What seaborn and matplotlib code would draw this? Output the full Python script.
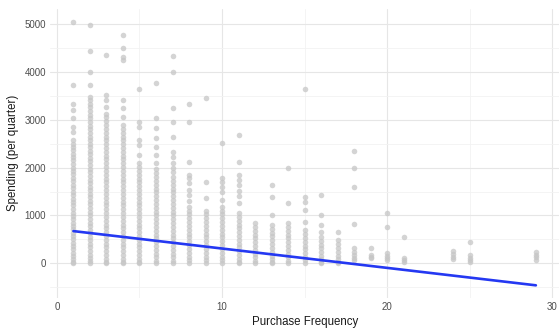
import matplotlib
matplotlib.use("Agg")
import matplotlib.pyplot as plt
from matplotlib.ticker import MultipleLocator
import pandas as pd
import seaborn as sns

# Quarterly spending observed for each purchase-frequency value
spend_f1 = [5040, 3720, 3330, 3200, 3030, 2850, 2740, 2570, 2500, 2430, 2360, 2290, 2220,
            2150, 2080, 2000, 1930, 1860, 1790, 1710, 1640, 1570, 1500, 1420, 1350, 1280,
            1210, 1140, 1060, 990, 920, 850, 780, 710, 640, 570, 500, 430, 360, 290, 220,
            150, 80, 20, 0]
spend_f2 = [4980, 4440, 4000, 3720, 3480, 3410, 3340, 3260, 3190, 3110, 3030, 2960, 2880,
            2800, 2730, 2650, 2580, 2500, 2430, 2350, 2280, 2200, 2130, 2050, 1980, 1900,
            1830, 1750, 1680, 1600, 1530, 1450, 1380, 1300, 1230, 1150, 1080, 1000, 930,
            850, 780, 700, 630, 550, 480, 400, 330, 250, 180, 100, 40, 0]
spend_f3 = [4350, 3510, 3410, 3270, 3130, 3050, 2970, 2890, 2810, 2730, 2650, 2570, 2490,
            2410, 2330, 2250, 2170, 2090, 2010, 1930, 1850, 1770, 1690, 1610, 1530, 1450,
            1370, 1290, 1210, 1130, 1050, 970, 890, 810, 730, 650, 570, 490, 410, 330, 250,
            170, 90, 30, 0]
spend_f4 = [4770, 4500, 4310, 4250, 3410, 3240, 3060, 2890, 2810, 2730, 2650, 2570, 2490,
            2410, 2330, 2250, 2170, 2090, 2010, 1930, 1850, 1770, 1690, 1610, 1530, 1450,
            1370, 1290, 1210, 1130, 1050, 970, 890, 810, 730, 650, 570, 490, 410, 330, 250,
            170, 90, 30, 0]
spend_f5 = [3640, 2950, 2850, 2570, 2470, 2260, 2090, 2010, 1930, 1850, 1770, 1690, 1610,
            1530, 1450, 1370, 1290, 1210, 1130, 1050, 970, 890, 810, 730, 650, 570, 490,
            410, 330, 250, 170, 90, 30, 0]
spend_f6 = [3760, 3030, 2820, 2610, 2430, 2260, 2090, 1980, 1880, 1800, 1720, 1640, 1560,
            1480, 1400, 1320, 1240, 1160, 1080, 1000, 920, 840, 760, 680, 600, 520, 440,
            360, 280, 200, 120, 50, 0]
spend_f7 = [4330, 4000, 3240, 2960, 2640, 2320, 2220, 2100, 2000, 1900, 1800, 1720, 1640,
            1560, 1480, 1400, 1320, 1240, 1160, 1080, 1000, 920, 840, 760, 680, 600, 520,
            440, 360, 280, 200, 120, 50, 0]
spend_f8 = [3340, 2950, 2110, 1840, 1780, 1670, 1530, 1420, 1300, 1170, 1100, 1020, 940,
            860, 780, 700, 620, 540, 460, 380, 300, 220, 140, 60, 0]
spend_f9 = [3450, 1700, 1360, 1100, 1020, 940, 860, 780, 700, 620, 540, 460, 380, 300,
            220, 140, 60, 0]
spend_f10 = [2510, 1780, 1700, 1600, 1480, 1320, 1170, 1100, 1020, 940, 860, 780, 700,
             620, 540, 460, 380, 300, 220, 140, 60, 0]
spend_f11 = [2680, 2120, 1840, 1740, 1630, 1520, 1400, 1250, 1050, 970, 890, 810, 730,
             650, 570, 490, 410, 330, 250, 170, 90, 30, 0]
spend_f12 = [840, 760, 680, 600, 520, 440, 360, 280, 200, 120, 50, 0]
spend_f13 = [1630, 1380, 1000, 800, 720, 640, 560, 480, 400, 320, 240, 160, 80, 20, 0]
spend_f14 = [1990, 1250, 840, 760, 680, 600, 520, 440, 360, 280, 200, 120, 50, 0]
spend_f15 = [3640, 1390, 1280, 1110, 860, 690, 610, 530, 450, 370, 290, 210, 130, 60, 0]
spend_f16 = [1420, 1000, 800, 650, 550, 470, 390, 310, 230, 150, 80, 20, 0]
spend_f17 = [650, 480, 400, 320, 240, 160, 90, 30, 0]
spend_f18 = [2350, 2000, 1590, 820, 310, 240, 170, 110, 60]
spend_f19 = [310, 170, 140, 110]
spend_f20 = [1050, 760, 210, 160, 110, 60]
spend_f21 = [550, 100, 60, 20]
spend_f24 = [260, 200, 140, 80]
spend_f25 = [450, 170, 110, 60, 30]
spend_f29 = [240, 180, 120, 60]

frequencies = [1, 2, 3, 4, 5, 6, 7, 8, 9, 10, 11, 12, 13, 14, 15, 16, 17, 18,
               19, 20, 21, 24, 25, 29]
spend_columns = [spend_f1, spend_f2, spend_f3, spend_f4, spend_f5, spend_f6, spend_f7,
                 spend_f8, spend_f9, spend_f10, spend_f11, spend_f12, spend_f13,
                 spend_f14, spend_f15, spend_f16, spend_f17, spend_f18, spend_f19,
                 spend_f20, spend_f21, spend_f24, spend_f25, spend_f29]

# Fitted linear trend, evaluated at the ends of the frequency range
fit_freq = [1, 29]
fit_spend = [672, -462]

rows = [(f, s) for f, col in zip(frequencies, spend_columns) for s in col]
df = pd.DataFrame(rows, columns=["frequency", "spending"])
fit_df = pd.DataFrame({"frequency": fit_freq, "spending": fit_spend})

sns.set_theme(style="whitegrid")
plt.rcParams["font.family"] = ["Liberation Sans", "DejaVu Sans"]

fig = plt.figure(figsize=(5.59, 3.31), dpi=100)
ax = fig.add_axes([0.090, 0.100, 0.910, 0.874])

sns.scatterplot(data=df, x="frequency", y="spending", ax=ax, color="#c6c6c6",
                alpha=0.75, s=16, linewidth=0, zorder=2)
sns.lineplot(data=fit_df, x="frequency", y="spending", ax=ax, color="#2438f2",
             linewidth=1.9, zorder=3)

ax.set_xlim(-0.4, 30.4)
ax.set_ylim(-725, 5325)
ax.xaxis.set_major_locator(MultipleLocator(10))
ax.xaxis.set_minor_locator(MultipleLocator(5))
ax.yaxis.set_major_locator(MultipleLocator(1000))
ax.yaxis.set_minor_locator(MultipleLocator(500))

ax.grid(which="major", color="#e6e6e6", linewidth=0.8)
ax.grid(which="minor", color="#f2f2f2", linewidth=0.6)
ax.set_axisbelow(True)
for sp in ax.spines.values():
    sp.set_visible(False)

ax.tick_params(axis="both", which="both", length=0, labelsize=7, colors="#4d4d4d", pad=3)
ax.set_xlabel("Purchase Frequency", fontsize=8.3, color="#1a1a1a", labelpad=3)
ax.set_ylabel("Spending (per quarter)", fontsize=8.3, color="#1a1a1a", labelpad=4)

fig.savefig("out.png", dpi=100)
